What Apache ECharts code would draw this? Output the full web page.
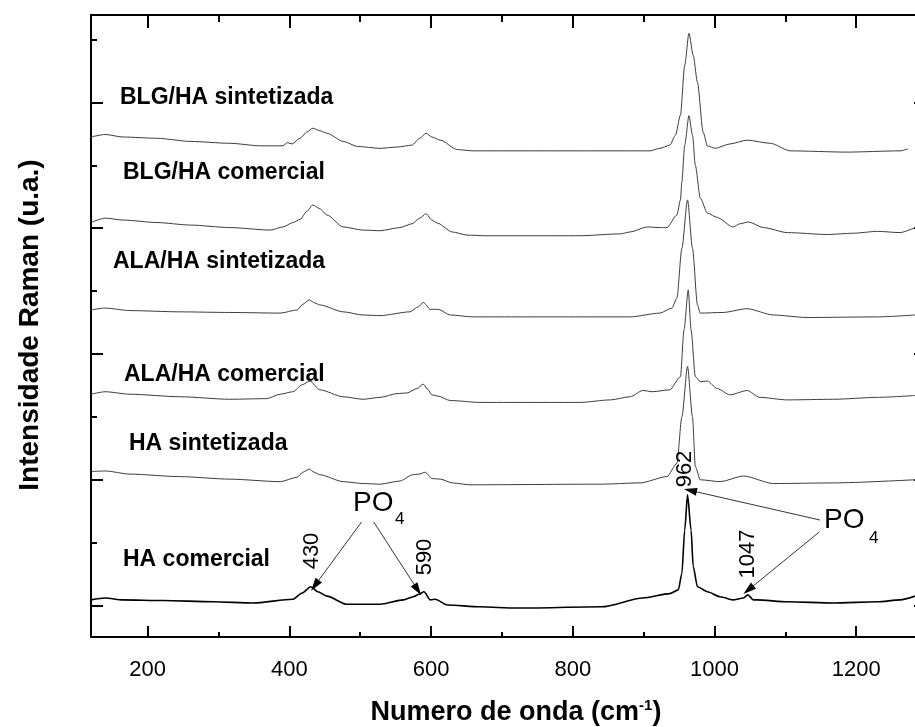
<!DOCTYPE html>
<html>
<head>
<meta charset="utf-8">
<script src="https://cdn.jsdelivr.net/npm/echarts@6/dist/echarts.min.js"></script>
<style>
  html, body { margin: 0; padding: 0; background: #fff; }
  #chart { width: 915px; height: 727px; }
</style>
</head>
<body>
<div id="chart"></div>
<script>
// Wavenumber axis ticks (cm-1)
const xMajorTicks = [200, 400, 600, 800, 1000, 1200];
const xMinorTicks = [300, 500, 700, 900, 1100];
// Intensity axis ticks (arbitrary units, spectra offset vertically)
const yMajorTicks = [50, 250, 450, 650, 850];
const yMinorTicks = [150, 350, 550, 750, 950];

// Sample names, top to bottom
const sampleNames = ['BLG/HA sintetizada', 'BLG/HA comercial', 'ALA/HA sintetizada',
                     'ALA/HA comercial', 'HA sintetizada', 'HA comercial'];

// Raman spectra: [wavenumber, intensity (offset)]
const blgSint = [[120,795],[140,799],[165,795],[213,793],[260,788],[316,785],[359,781],[391,781],[397,786],[404,784],
  [415,793],[425,803],[433,809],[443,805],[453,801],[476,788],[496,780],[528,777],[552,779],[573,782],[584,793],
  [593,801],[601,795],[613,790],[637,775],[659,773],[716,773],[810,773],[881,773],[909,773],[923,777],[937,782],
  [945,798],[952,830],[958,909],[964,960],[970,925],[976,882],[984,803],[990,781],[1001,777],[1022,784],[1046,790],
  [1079,785],[1107,773],[1187,771],[1262,773],[1273,776]];

const blgCom = [[120,659],[140,666],[165,663],[213,659],[260,655],[316,651],[373,647],[391,652],[405,659],[415,664],
  [425,677],[433,687],[443,681],[453,671],[476,652],[504,647],[528,646],[556,651],[573,657],[584,666],[593,673],
  [601,663],[609,658],[630,644],[651,639],[679,638],[740,638],[810,638],[867,641],[881,644],[905,652],[923,651],
  [933,651],[947,671],[952,695],[954,724],[958,782],[964,829],[969,798],[973,750],[980,698],[990,674],[1004,667],
  [1026,652],[1036,657],[1048,660],[1069,651],[1103,643],[1159,640],[1196,642],[1230,645],[1262,643],[1283,651]];

const alaSint = [[120,520],[140,523],[175,519],[246,517],[316,516],[387,515],[411,520],[419,529],[428,536],[436,531],
  [443,528],[476,517],[504,512],[528,511],[570,517],[582,525],[589,532],[599,521],[610,521],[627,512],[659,509],
  [810,509],[881,509],[923,515],[940,523],[947,539],[954,618],[962,695],[969,618],[976,528],[980,515],[1012,516],
  [1046,522],[1083,512],[1131,508],[1230,509],[1283,512]];

const alaCom = [[120,386],[140,390],[175,386],[246,382],[316,378],[368,379],[387,386],[405,390],[418,401],[429,407],
  [443,393],[476,382],[504,378],[528,381],[552,387],[566,388],[580,395],[589,402],[596,393],[601,385],[610,383],
  [627,376],[669,373],[810,373],[853,377],[881,382],[899,392],[912,390],[937,393],[952,414],[957,488],[963,552],
  [967,488],[973,414],[980,406],[990,407],[1004,395],[1022,385],[1046,392],[1064,381],[1103,377],[1168,378],
  [1230,381],[1283,384]];

const haSint = [[120,263],[140,264],[175,259],[246,255],[316,251],[387,247],[411,254],[419,262],[428,267],[435,262],
  [443,258],[476,247],[504,244],[528,243],[556,248],[574,258],[583,259],[592,262],[601,252],[613,251],[630,245],
  [655,242],[839,243],[895,245],[933,255],[947,276],[954,350],[962,430],[969,350],[973,271],[980,250],[1008,247],
  [1041,256],[1083,244],[1168,245],[1283,250]];

const haCom = [[120,59],[140,62],[165,59],[222,58],[292,56],[349,54],[405,60],[418,70],[430,80],[440,72],[453,65],
  [481,52],[528,52],[561,59],[575,64],[583,68],[590,72],[599,59],[606,60],[623,51],[669,48],[720,46],[841,48],
  [899,62],[937,69],[949,75],[954,101],[958,170],[962,226],[967,170],[970,112],[976,80],[990,72],[1008,64],
  [1026,59],[1041,62],[1047,67],[1055,59],[1060,59],[1103,56],[1168,54],[1230,56],[1262,59],[1283,65]];

// Assigned PO4 bands marked on the commercial HA spectrum
const po4Peaks = [430, 590, 962, 1047];

const spectra = [blgSint, blgCom, alaSint, alaCom, haSint, haCom];

const FONT = "'Liberation Sans', Arial, sans-serif";
const chart = echarts.init(document.getElementById('chart'), null, { renderer: 'canvas' });

const X_MIN = 120, X_MAX = 1300, Y_MIN = 0, Y_MAX = 989;
const grid = { left: 91, top: 15, width: 836, height: 622 };

function xAxisDef(position, ticks, len, showLine, showLabel) {
  return {
    type: 'value', position, min: X_MIN, max: X_MAX, gridIndex: 0,
    axisLine: { show: showLine, onZero: false, lineStyle: { color: '#000', width: 2 } },
    axisTick: { show: true, inside: true, length: len, customValues: ticks, lineStyle: { color: '#000', width: 2 } },
    axisLabel: showLabel
      ? { show: true, customValues: ticks, margin: 22, color: '#000', fontSize: 22, fontFamily: FONT,
          formatter: v => String(v) }
      : { show: false },
    splitLine: { show: false }
  };
}
function yAxisDef(position, ticks, len, showLine) {
  return {
    type: 'value', position, min: Y_MIN, max: Y_MAX, gridIndex: 0,
    axisLine: { show: showLine, onZero: false, lineStyle: { color: '#000', width: 2 } },
    axisTick: { show: true, inside: true, length: len, customValues: ticks, lineStyle: { color: '#000', width: 2 } },
    axisLabel: { show: false },
    splitLine: { show: false }
  };
}

const series = spectra.map((data, i) => ({
  name: sampleNames[i],
  type: 'line',
  xAxisIndex: 0, yAxisIndex: 0,
  data,
  showSymbol: false,
  symbol: 'none',
  smooth: 0.25,
  smoothMonotone: 'x',
  clip: true,
  lineStyle: i === spectra.length - 1
    ? { color: '#000', width: 1.6 }
    : { color: '#3c3c3c', width: 1 },
  z: 3
}));

// Arrows from the PO4 labels to the assigned bands (data coordinates)
const peakY = po4Peaks.map(p => {
  const pt = haCom.find(d => d[0] === p);
  return pt ? pt[1] : 0;
});
const arrowHead = { symbol: 'triangle', symbolSize: [8, 13] };
series[5].markLine = {
  silent: true,
  animation: false,
  symbol: ['none', 'triangle'],
  symbolSize: 12,
  label: { show: false },
  emphasis: { disabled: true },
  lineStyle: { color: '#000', width: 0.8, type: 'solid' },
  data: [
    [{ coord: [502, 183], symbol: 'none' }, Object.assign({ coord: [po4Peaks[0] + 6, peakY[0] + 2] }, arrowHead)],
    [{ coord: [519, 183], symbol: 'none' }, Object.assign({ coord: [po4Peaks[1] - 9, peakY[1] + 3] }, arrowHead)],
    [{ coord: [1149, 186], symbol: 'none' }, Object.assign({ coord: [po4Peaks[2] + 4, peakY[2] + 7] }, arrowHead)],
    [{ coord: [1148, 167], symbol: 'none' }, Object.assign({ coord: [po4Peaks[3] + 1, peakY[3] + 8] }, arrowHead)]
  ]
};

const nameLayout = [
  { x: 120, y: 98 }, { x: 123, y: 173 }, { x: 113, y: 262 },
  { x: 124, y: 375 }, { x: 129, y: 444 }, { x: 123, y: 560 }
];
const peakLabelLayout = [
  { x: 312, y: 551 }, { x: 425, y: 557 }, { x: 685, y: 469 }, { x: 748, y: 554 }
];

const graphics = [];
sampleNames.forEach((name, i) => {
  graphics.push({
    type: 'text', x: nameLayout[i].x, y: nameLayout[i].y, z: 10,
    style: { text: name, fill: '#000', font: `bold 23px ${FONT}`, align: 'left', verticalAlign: 'middle' }
  });
});
po4Peaks.forEach((p, i) => {
  graphics.push({
    type: 'text', x: peakLabelLayout[i].x, y: peakLabelLayout[i].y, rotation: Math.PI / 2, z: 10,
    style: { text: String(p), fill: '#000', font: `22px ${FONT}`, align: 'center', verticalAlign: 'middle' }
  });
});
// PO4 group labels
[{ x: 353, y: 503, sx: 395, sy: 519 }, { x: 824, y: 520, sx: 869, sy: 538 }].forEach(l => {
  graphics.push({ type: 'text', x: l.x, y: l.y, z: 10,
    style: { text: 'PO', fill: '#000', font: `28px ${FONT}`, align: 'left', verticalAlign: 'middle' } });
  graphics.push({ type: 'text', x: l.sx, y: l.sy, z: 10,
    style: { text: '4', fill: '#000', font: `17px ${FONT}`, align: 'left', verticalAlign: 'middle' } });
});
// Axis titles
graphics.push({
  type: 'text', x: 516, y: 713, z: 10,
  style: {
    text: '{a|Numero de onda (cm}{s|-1}{a|)}',
    align: 'center', verticalAlign: 'middle',
    rich: {
      a: { fontSize: 27, fontWeight: 'bold', fontFamily: FONT, fill: '#000', color: '#000', lineHeight: 30 },
      s: { fontSize: 15, fontWeight: 'bold', fontFamily: FONT, fill: '#000', color: '#000', lineHeight: 15, verticalAlign: 'top' }
    }
  }
});
graphics.push({
  type: 'text', x: 30, y: 325, rotation: Math.PI / 2, z: 10,
  style: { text: 'Intensidade Raman (u.a.)', fill: '#000', font: `bold 28px ${FONT}`, align: 'center', verticalAlign: 'middle' }
});

chart.setOption({
  animation: false,
  backgroundColor: '#fff',
  grid: Object.assign({ containLabel: false, outerBoundsMode: 'none', show: false }, grid),
  xAxis: [
    xAxisDef('bottom', xMajorTicks, 11, true, true),
    xAxisDef('bottom', xMinorTicks, 5, false, false),
    xAxisDef('top', xMajorTicks, 13, true, false),
    xAxisDef('top', xMinorTicks, 7, false, false)
  ],
  yAxis: [
    yAxisDef('left', yMajorTicks, 12, true),
    yAxisDef('left', yMinorTicks, 6, false),
    yAxisDef('right', yMajorTicks, 13, true),
    yAxisDef('right', yMinorTicks, 6, false)
  ],
  series,
  graphic: graphics
});
</script>
</body>
</html>
